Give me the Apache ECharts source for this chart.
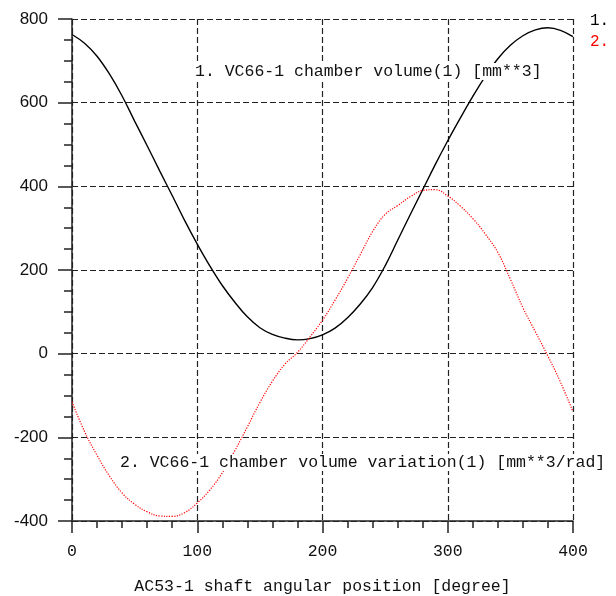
<!DOCTYPE html>
<html>
<head>
<meta charset="utf-8">
<script src="https://cdn.jsdelivr.net/npm/echarts@6/dist/echarts.min.js"></script>
<style>
html,body{margin:0;padding:0;background:#fff;}
#chart{width:616px;height:596px;}
</style>
</head>
<body>
<div id="chart"></div>
<script>
// Data
var angles = [0,10,20,30,40,50,60,70,80,90,100,110,120,130,140,150,160,170,180,190,200,210,220,230,240,250,260,270,280,290,300,310,320,330,340,350,360,370,380,390,400];
var volume = [763,742,711,668,616,556,497,437,378,318,262,210,163,123,88,62,46,37,33,36,45,61,86,118,158,210,271,332,392,452,509,563,615,663,705,737,760,774,779,773,758];
var variation = [-115,-186,-243,-293,-333,-360,-378,-388,-389,-380,-357,-326,-285,-232,-175,-117,-66,-25,3,40,80,128,180,236,292,333,354,375,390,392,377,353,323,286,242,178,110,52,-6,-68,-139];
var seriesNames = ['1. VC66-1 chamber volume(1) [mm**3]', '2. VC66-1 chamber volume variation(1) [mm**3/rad]'];
var legendLabels = ['1.', '2.'];
var xTitle = 'AC53-1 shaft angular position [degree]';

function pairs(xs, ys){ return xs.map(function(x,i){ return [x, ys[i]]; }); }

var mono = '"Liberation Mono", "DejaVu Sans Mono", monospace';
var sans = '"Liberation Sans", Arial, sans-serif';
var axisColor = '#222';

var chart = echarts.init(document.getElementById('chart'), null, {renderer:'canvas'});
chart.setOption({
  animation: false,
  backgroundColor: '#ffffff',
  grid: {left: 72, right: 43, top: 19, bottom: 75, containLabel: false, outerBoundsMode: 'none'},
  legend: {
    orient: 'vertical',
    left: 580, top: 8,
    icon: 'none', itemWidth: 0, itemHeight: 14, itemGap: 5,
    selectedMode: false,
    formatter: function(name){ return legendLabels[seriesNames.indexOf(name)]; },
    data: [
      {name: seriesNames[0], textStyle: {color: '#000000', fontFamily: mono, fontSize: 16}},
      {name: seriesNames[1], textStyle: {color: '#ff0000', fontFamily: mono, fontSize: 16}}
    ]
  },
  xAxis: {
    type: 'value', min: 0, max: 400, interval: 100,
    name: xTitle, nameLocation: 'middle', nameGap: 57,
    nameTextStyle: {fontFamily: mono, fontSize: 16.5, color: '#111'},
    axisLine: {show: true, onZero: false, lineStyle: {color: axisColor, width: 1.5}},
    axisTick: {show: true, inside: false, length: 12, lineStyle: {color: axisColor, width: 1.5}},
    minorTick: {show: true, splitNumber: 5, length: 7, lineStyle: {color: axisColor, width: 1.5}},
    axisLabel: {margin: 22, fontFamily: mono, fontSize: 16.5, color: '#111'},
    splitLine: {show: true, lineStyle: {color: axisColor, type: [6, 3], width: 1.2}}
  },
  yAxis: {
    type: 'value', min: -400, max: 800, interval: 200,
    axisLine: {show: true, onZero: false, lineStyle: {color: axisColor, width: 1.5}},
    axisTick: {show: true, inside: false, length: 14, lineStyle: {color: axisColor, width: 1.5}},
    minorTick: {show: true, splitNumber: 4, length: 8, lineStyle: {color: axisColor, width: 1.5}},
    axisLabel: {margin: 24, fontFamily: sans, fontSize: 17, color: '#111'},
    splitLine: {show: true, lineStyle: {color: axisColor, type: [6, 3], width: 1.2}}
  },
  series: [
    {
      name: seriesNames[0], type: 'line', data: pairs(angles, volume),
      smooth: 0.4, showSymbol: false, z: 3,
      lineStyle: {color: '#000000', width: 1.4}
    },
    {
      name: seriesNames[1], type: 'line', data: pairs(angles, variation),
      smooth: 0.4, showSymbol: false, z: 3,
      lineStyle: {color: '#ff0000', width: 1.2, type: [1.2, 1.4]}
    }
  ],
  graphic: [
    {
      type: 'text', left: 193, top: 63, z: 100,
      style: {text: seriesNames[0], fontFamily: mono, fontSize: 16.5, fill: '#111',
              backgroundColor: '#ffffff', padding: [0, 2, 0, 2]}
    },
    {
      type: 'text', left: 118, top: 454, z: 100,
      style: {text: seriesNames[1], fontFamily: mono, fontSize: 16.5, fill: '#111',
              backgroundColor: '#ffffff', padding: [0, 2, 0, 2]}
    }
  ]
});
</script>
</body>
</html>
